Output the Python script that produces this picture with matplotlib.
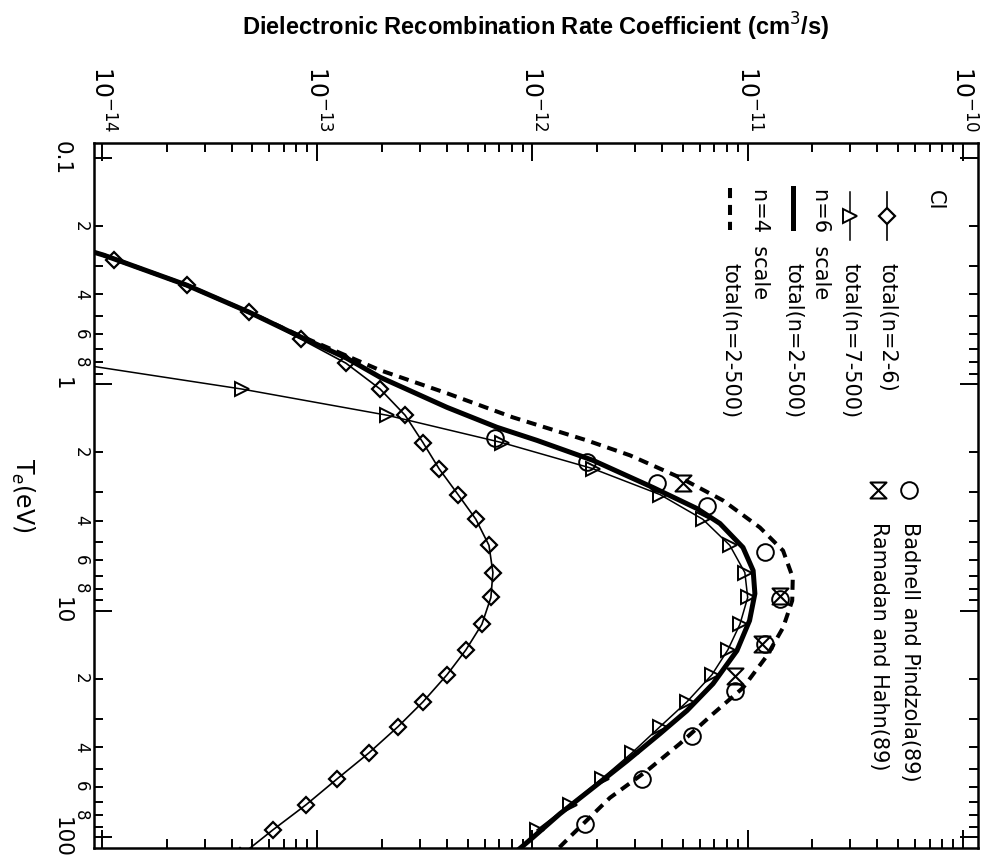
import numpy as np
import matplotlib
matplotlib.use('Agg')
import matplotlib.pyplot as plt
from matplotlib.path import Path
from matplotlib.ticker import NullFormatter

plt.rcParams['font.family'] = ['DejaVu Sans']

# Te (eV) and rate coefficients (cm^3/s)
te_n26 = [0.217, 0.282, 0.365, 0.480, 0.632, 0.807, 1.05, 1.37, 1.81, 2.36, 3.07, 3.95, 5.15,
          6.79, 8.75, 11.5, 14.9, 19.2, 25.3, 32.6, 42.5, 55.3, 72.1, 93.1, 121]
rate_n26 = [5.2e-15, 1.14e-14, 2.48e-14, 4.82e-14, 8.41e-14, 1.36e-13, 1.96e-13, 2.56e-13,
            3.10e-13, 3.68e-13, 4.51e-13, 5.46e-13, 6.28e-13, 6.55e-13, 6.41e-13, 5.82e-13,
            4.91e-13, 4.01e-13, 3.10e-13, 2.37e-13, 1.74e-13, 1.24e-13, 8.87e-14, 6.22e-14, 4.4e-14]

te_n7 = [0.807, 1.05, 1.37, 1.81, 2.36, 3.07, 3.95, 5.15, 6.79, 8.75, 11.5, 14.9, 19.2, 25.3,
         32.6, 42.5, 55.3, 72.1, 93.1]
rate_n7 = [7.3e-15, 4.47e-14, 2.11e-13, 7.21e-13, 1.91e-12, 3.91e-12, 6.19e-12, 8.26e-12,
           9.70e-12, 1.00e-11, 9.20e-12, 8.09e-12, 6.82e-12, 5.22e-12, 3.91e-12, 2.90e-12,
           2.10e-12, 1.49e-12, 1.05e-12]

te_n6 = [0.219, 0.269, 0.365, 0.480, 0.619, 0.767, 0.931, 1.265, 1.549, 1.770, 2.168, 2.858,
         3.540, 4.121, 5.260, 6.653, 8.414, 11.07, 15.03, 21.04, 27.67, 34.99, 46.13, 60.67,
         79.07, 100.9, 125.9]
rate_n6 = [5.0e-15, 1.02e-14, 2.48e-14, 4.82e-14, 8.41e-14, 1.37e-13, 1.96e-13, 4.01e-13,
           6.84e-13, 1.05e-12, 1.91e-12, 3.63e-12, 5.81e-12, 7.43e-12, 9.51e-12, 1.06e-11,
           1.08e-11, 1.02e-11, 8.91e-12, 6.90e-12, 5.22e-12, 3.91e-12, 2.75e-12, 1.91e-12,
           1.34e-12, 1.00e-12, 7.6e-13]

te_n4 = [0.219, 0.269, 0.365, 0.480, 0.594, 0.867, 1.096, 1.400, 1.770, 2.061, 2.582, 3.258,
         4.295, 5.433, 7.145, 9.036, 11.89, 15.81, 21.93, 28.58, 38.73, 51.05, 67.14, 97.05, 125.9]
rate_n4 = [5.0e-15, 1.02e-14, 2.48e-14, 4.82e-14, 7.80e-14, 1.96e-13, 4.01e-13, 8.11e-13,
           1.79e-12, 2.84e-12, 4.84e-12, 7.67e-12, 1.14e-11, 1.46e-11, 1.62e-11, 1.61e-11,
           1.46e-11, 1.23e-11, 9.51e-12, 6.90e-12, 4.84e-12, 3.40e-12, 2.29e-12, 1.54e-12, 1.17e-12]

te_badnell = [1.734, 2.213, 2.742, 3.467, 5.534, 8.851, 14.0, 22.6, 35.7, 55.3, 87.5]
rate_badnell = [6.70e-13, 1.79e-12, 3.78e-12, 6.47e-12, 1.20e-11, 1.41e-11, 1.20e-11,
                8.73e-12, 5.51e-12, 3.23e-12, 1.75e-12]

te_ramadan = [2.742, 8.59, 14.0, 19.4]
rate_ramadan = [5.00e-12, 1.41e-11, 1.16e-11, 8.73e-12]

rate_ticks = [1e-14, 1e-13, 1e-12, 1e-11, 1e-10]
rate_labels = [r'$10^{-14}$', r'$10^{-13}$', r'$10^{-12}$', r'$10^{-11}$', r'$10^{-10}$']
te_ticks = [0.1, 1, 10, 100]
te_labels = ['0.1', '1', '10', '100']

# hourglass symbol for Ramadan and Hahn
bowtie = Path([(-1, 1), (1, 1), (-1, -1), (1, -1), (-1, 1)],
              [Path.MOVETO, Path.LINETO, Path.LINETO, Path.LINETO, Path.CLOSEPOLY])

fig = plt.figure(figsize=(9.96, 8.63), dpi=100)
ax = fig.add_axes([94/996, 15/863, 884/996, 705/863])

ax.plot(rate_n26, te_n26, '-', color='k', lw=1.2, marker='D', ms=8.5, mfc='none', mew=1.6)
ax.plot(rate_n7, te_n7, '-', color='k', lw=1.1, marker='>', ms=10.5, mfc='none', mew=1.4)
ax.plot(rate_n6, te_n6, '-', color='k', lw=3.6)
ax.plot(rate_n4, te_n4, color='k', lw=2.9, ls=(0, (2.5, 1.7)))
ax.plot(rate_badnell, te_badnell, 'o', color='k', ms=12, mfc='none', mew=1.4)
ax.plot(rate_ramadan, te_ramadan, ls='none', color='k', marker=bowtie, ms=11.5, mfc='none', mew=1.5)

ax.set_xscale('log')
ax.set_yscale('log')
ax.set_xlim(9.18e-15, 1.175e-10)
ax.set_ylim(111.9, 0.0859)

ax.set_xticks(rate_ticks, rate_labels)
ax.xaxis.set_minor_formatter(NullFormatter())
ax.xaxis.set_ticks_position('both')
ax.tick_params(axis='x', which='both', labeltop=True, labelbottom=False)
ax.tick_params(axis='x', which='major', labelsize=17, pad=8, labelrotation=-90)

minor_te = []
minor_lab = []
for dec in [0.1, 1, 10]:
    for m in range(2, 10):
        minor_te.append(m * dec)
        minor_lab.append(str(m) if m % 2 == 0 else '')
ax.set_yticks(te_ticks, te_labels)
ax.set_yticks(minor_te, minor_lab, minor=True)
ax.yaxis.set_ticks_position('both')
ax.tick_params(axis='y', which='major', labelsize=15.5, pad=16, labelrotation=-90)
ax.tick_params(axis='y', which='minor', labelsize=12, pad=3, labelrotation=-90)
for lbl in ax.get_yticklabels() + ax.get_yticklabels(minor=True):
    lbl.set_va('center')

ax.tick_params(which='both', direction='in', width=1.4, top=True, right=True)
ax.tick_params(which='major', length=13)
ax.tick_params(which='minor', length=6.5)
for s in ax.spines.values():
    s.set_linewidth(1.8)

fig.text(536/996, 1 - 27/863, 'Dielectronic Recombination Rate Coefficient (cm$^3$/s)',
         ha='center', va='center', fontsize=17, fontweight='bold',
         family=['Liberation Sans', 'DejaVu Sans'])
fig.text(23/996, 1 - 495/863, r'T$_e$(eV)', rotation=-90, ha='center', va='center', fontsize=17)

# legend, drawn rotated like the rest of the page
def fx(px):
    return (px - 94) / 884.0

def fy(py):
    return (848 - py) / 705.0

def legtext(px, py, s):
    ax.text(fx(px), fy(py), s, transform=ax.transAxes, rotation=-90,
            ha='center', va='top', fontsize=15)

legtext(935, 190, 'CI')
ax.plot([fx(887)] * 2, [fy(192), fy(240)], transform=ax.transAxes, color='k', lw=1.2, clip_on=False)
ax.plot([fx(887)], [fy(216)], transform=ax.transAxes, marker='D', ms=8.5, mfc='white', mec='k', mew=1.6)
legtext(887, 263, 'total(n=2-6)')
ax.plot([fx(850)] * 2, [fy(192), fy(240)], transform=ax.transAxes, color='k', lw=1.1, clip_on=False)
ax.plot([fx(850)], [fy(216)], transform=ax.transAxes, marker='>', ms=10.5, mfc='white', mec='k', mew=1.4)
legtext(850, 263, 'total(n=7-500)')
legtext(821, 188, 'n=6  scale')
ax.plot([fx(793)] * 2, [fy(188), fy(228)], transform=ax.transAxes, color='k', lw=3.6)
legtext(793, 263, 'total(n=2-500)')
legtext(760, 188, 'n=4  scale')
ax.plot([fx(730)] * 2, [fy(188), fy(230)], transform=ax.transAxes, color='k', lw=2.9, ls=(0, (2.5, 1.7)))
legtext(730, 263, 'total(n=2-500)')

ax.plot([fx(909)], [fy(490)], transform=ax.transAxes, marker='o', ms=12, mfc='none', mec='k', mew=1.4)
legtext(910, 522, 'Badnell and Pindzola(89)')
ax.plot([fx(878)], [fy(490)], transform=ax.transAxes, marker=bowtie, ms=11.5, mfc='none', mec='k', mew=1.5)
legtext(879, 522, 'Ramadan and Hahn(89)')

fig.savefig('out.png', dpi=100)
